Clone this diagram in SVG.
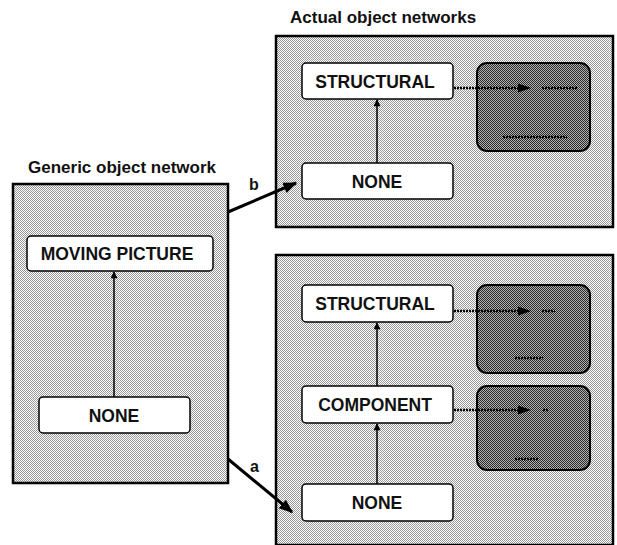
<svg xmlns="http://www.w3.org/2000/svg" width="617" height="545" viewBox="0 0 617 545">
<defs>
<pattern id="light" width="2" height="2" patternUnits="userSpaceOnUse">
<rect width="2" height="2" fill="#fff"/>
<rect x="0" y="0" width="1" height="1" fill="#999"/>
<rect x="1" y="1" width="1" height="1" fill="#999"/>
</pattern>
<pattern id="dark" width="2" height="2" patternUnits="userSpaceOnUse">
<rect width="2" height="2" fill="#b0b0b0"/>
<rect x="0" y="0" width="1" height="1" fill="#2a2a2a"/>
<rect x="1" y="1" width="1" height="1" fill="#2a2a2a"/>
</pattern>
<marker id="ah" viewBox="0 0 10 10" refX="9" refY="5" markerWidth="8" markerHeight="7" markerUnits="userSpaceOnUse" orient="auto">
<path d="M0,0 L10,5 L0,10 z" fill="#000"/>
</marker>
<marker id="ahb" viewBox="0 0 10 10" refX="9" refY="5" markerWidth="14" markerHeight="14" markerUnits="userSpaceOnUse" orient="auto">
<path d="M0,1 L10,5 L0,9 z" fill="#000"/>
</marker>
</defs>
<style>
.panel{fill:url(#light);stroke:#000;stroke-width:2.5}
.node rect{fill:#fff;stroke:#000;stroke-width:1.5}
.node text{font-family:"Liberation Sans",Arial,sans-serif;font-weight:bold;font-size:17.5px;text-anchor:middle;fill:#111}
.screen{fill:url(#dark);stroke:#000;stroke-width:2}
.title{font-family:"Liberation Sans",Arial,sans-serif;font-weight:bold;font-size:17px;fill:#111}
.lbl{font-family:"Liberation Sans",Arial,sans-serif;font-weight:bold;font-size:16px;fill:#111}
.up{stroke:#000;stroke-width:1.5;fill:none;marker-end:url(#ah)}
.dot{stroke:#000;stroke-width:2.5;stroke-dasharray:2 1;fill:none}
.head{fill:#000}
.big{stroke:#000;stroke-width:3;fill:none;marker-end:url(#ahb)}
</style>

<text class="title" x="28" y="173">Generic object network</text>
<text class="title" x="290" y="23">Actual object networks</text>

<rect class="panel" x="13" y="184" width="215" height="299"/>
<rect class="panel" x="276" y="36" width="337" height="191"/>
<rect class="panel" x="276" y="255" width="337" height="290"/>

<g id="screen1"><rect class="screen" x="477" y="63" width="113" height="88" rx="10"/></g>
<g id="screen2"><rect class="screen" x="477" y="285" width="113" height="88" rx="10"/></g>
<g id="screen3"><rect class="screen" x="477" y="386" width="113" height="84" rx="10"/></g>

<g id="g-moving" class="node"><rect x="27" y="236" width="186" height="35" rx="4"/><text x="117" y="260">MOVING PICTURE</text></g>
<g id="g-none" class="node"><rect x="39" y="397" width="151" height="36" rx="4"/><text x="114" y="421.5">NONE</text></g>

<g id="a1-structural" class="node"><rect x="302" y="63" width="151" height="36" rx="4"/><text x="375" y="87.5">STRUCTURAL</text></g>
<g id="a1-none" class="node"><rect x="302" y="163" width="151" height="36" rx="4"/><text x="377" y="187.5">NONE</text></g>

<g id="a2-structural" class="node"><rect x="302" y="285" width="151" height="37" rx="4"/><text x="375" y="310">STRUCTURAL</text></g>
<g id="a2-component" class="node"><rect x="302" y="386" width="151" height="37" rx="4"/><text x="375" y="411">COMPONENT</text></g>
<g id="a2-none" class="node"><rect x="302" y="484" width="151" height="37" rx="4"/><text x="377" y="509">NONE</text></g>

<g id="connectors">
<line class="up" x1="114" y1="397" x2="114" y2="272"/>
<line class="up" x1="377" y1="163" x2="377" y2="100"/>
<line class="up" x1="377" y1="386" x2="377" y2="323"/>
<line class="up" x1="377" y1="484" x2="377" y2="424"/>

<line class="dot" x1="454" y1="88" x2="522" y2="88"/>
<path class="head" d="M518,83.5 L531,88 L518,92.5 z"/>
<line class="dot" x1="542" y1="88" x2="578" y2="88"/>
<line class="dot" x1="503" y1="137" x2="567" y2="137"/>

<line class="dot" x1="454" y1="311" x2="522" y2="311"/>
<path class="head" d="M518,306.5 L531,311 L518,315.5 z"/>
<line class="dot" x1="542" y1="311" x2="555" y2="311"/>
<line class="dot" x1="515" y1="358" x2="543" y2="358"/>

<line class="dot" x1="454" y1="410" x2="522" y2="410"/>
<path class="head" d="M518,405.5 L531,410 L518,414.5 z"/>
<line class="dot" x1="543" y1="410" x2="548" y2="410"/>
<line class="dot" x1="515" y1="459" x2="538" y2="459"/>

<line class="big" x1="228" y1="212" x2="296" y2="183"/>
<line class="big" x1="228" y1="459" x2="292" y2="512"/>
<text class="lbl" x="249" y="190">b</text>
<text class="lbl" x="250" y="472">a</text>
</g>
</svg>
